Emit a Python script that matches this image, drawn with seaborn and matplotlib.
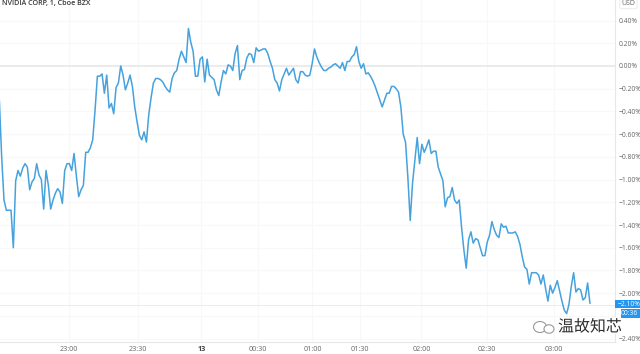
import matplotlib
matplotlib.use("Agg")
import matplotlib.pyplot as plt
import matplotlib.patheffects as pe
from matplotlib.patches import Ellipse
import pandas as pd
import seaborn as sns

pct = [-0.30,-0.80,-1.18,-1.27,-1.27,-1.27,-1.60,-1.01,-0.92,-0.97,-0.90,-0.86,-0.89,-1.09,-1.02,-0.99,-0.86,-0.96,-1.00,
-1.26,-0.92,-1.05,-1.26,-1.18,-1.12,-1.08,-1.11,-1.21,-0.92,-0.86,-0.86,-0.92,-0.77,-0.97,-1.15,-1.09,-1.05,-0.76,-0.76,
-0.72,-0.65,-0.39,-0.09,-0.09,-0.07,-0.24,-0.08,-0.37,-0.33,-0.42,-0.19,-0.15,0.00,-0.08,-0.21,-0.15,-0.08,-0.18,-0.36,
-0.49,-0.61,-0.65,-0.58,-0.67,-0.43,-0.28,-0.15,-0.11,-0.11,-0.12,-0.14,-0.18,-0.21,-0.23,-0.11,-0.06,-0.04,0.06,0.13,
0.08,0.03,0.33,0.21,0.13,-0.09,-0.09,0.06,0.08,-0.14,0.06,-0.08,-0.10,-0.12,-0.21,-0.26,-0.14,-0.04,-0.07,0.01,0.00,
-0.04,0.11,0.18,-0.12,-0.04,-0.03,0.07,0.11,0.10,0.03,0.16,0.13,0.14,0.15,0.15,0.11,0.04,-0.02,-0.12,-0.15,-0.22,-0.12,
-0.07,-0.02,-0.08,-0.05,-0.02,-0.12,-0.15,-0.05,-0.05,-0.08,-0.09,-0.08,0.02,0.15,0.08,0.03,-0.01,-0.04,-0.04,-0.02,
-0.01,0.01,0.02,0.00,-0.02,0.03,-0.04,0.04,0.04,0.08,0.10,0.17,0.04,-0.02,0.02,-0.07,-0.06,-0.09,-0.13,-0.18,-0.24,
-0.30,-0.36,-0.30,-0.24,-0.24,-0.18,-0.18,-0.20,-0.23,-0.36,-0.60,-0.67,-0.98,-1.36,-1.03,-0.83,-0.63,-0.86,-0.69,-0.76,
-0.71,-0.65,-0.77,-0.75,-0.75,-0.89,-0.95,-1.01,-1.24,-1.16,-1.15,-1.07,-1.18,-1.21,-1.18,-1.42,-1.62,-1.78,-1.53,-1.46,
-1.56,-1.52,-1.53,-1.60,-1.67,-1.67,-1.55,-1.49,-1.37,-1.44,-1.49,-1.51,-1.39,-1.42,-1.41,-1.47,-1.47,-1.47,-1.46,-1.50,
-1.57,-1.68,-1.77,-1.79,-1.92,-1.82,-1.82,-1.82,-1.84,-1.92,-1.84,-1.96,-2.07,-1.93,-2.00,-1.95,-1.89,-1.98,-2.07,-2.15,
-2.18,-2.10,-1.94,-1.82,-1.99,-1.96,-1.97,-2.06,-2.04,-1.91,-2.09]
bars = list(range(-1, len(pct) - 1))

time_ticks = [28.9, 58.3, 85.6, 109.9, 133.1, 153.5, 179.8, 208.0, 236.4]
time_labels = ["23:00", "23:30", "13", "00:30", "01:00", "01:30", "02:00", "02:30", "03:00"]
y_ticks = [0.4, 0.2, 0.0, -0.2, -0.4, -0.6, -0.8, -1.0, -1.2, -1.4, -1.6, -1.8, -2.0, -2.4]
grid_y = [0.4, 0.2, -0.2, -0.4, -0.6, -0.8, -1.0, -1.2, -1.4, -1.6, -1.8, -2.0, -2.2, -2.4]
y_labels = ["0.40%", "0.20%", "0.00%", "\u22120.20%", "\u22120.40%", "\u22120.60%", "\u22120.80%", "\u22121.00%",
            "\u22121.20%", "\u22121.40%", "\u22121.60%", "\u22121.80%", "\u22122.00%", "\u22122.40%"]
last_value = -2.10

W, H = 640, 354
sns.set_theme(style="white")
plt.rcParams["font.family"] = ["Open Sans", "DejaVu Sans"]
fig = plt.figure(figsize=(W / 100, H / 100), dpi=100, facecolor="white")
ax = fig.add_axes([0, (H - 342) / H, 614.7 / W, 342 / H], facecolor="white")

df = pd.DataFrame({"bar": bars, "pct": pct})
sns.lineplot(data=df, x="bar", y="pct", ax=ax, color="#45a2dd", linewidth=1.1, zorder=5, errorbar=None)

ax.set_xlim(-5 / 7, 262.6)
ax.set_ylim(-2.43, 0.581)
ax.set_xlabel("")
ax.set_ylabel("")
for v in grid_y:
    ax.axhline(v, color="#f7f8fa", lw=0.8, zorder=1)
for t in time_ticks:
    ax.axvline(t, color="#f7f8fa", lw=0.8, zorder=1)
ax.axhline(0, color="#e6e6e6", lw=1.1, zorder=2)
ax.axhline(last_value, color="#e2efef", lw=0.7, zorder=2)

for s in ["top", "left"]:
    ax.spines[s].set_visible(False)
for s in ["right", "bottom"]:
    ax.spines[s].set_color("#e6e8eb")
    ax.spines[s].set_linewidth(0.8)

ax.yaxis.tick_right()
ax.set_yticks(y_ticks)
ax.set_yticklabels(y_labels)
ax.set_xticks(time_ticks)
ax.set_xticklabels(time_labels)
ax.tick_params(axis="y", length=0, pad=2.5, labelsize=4.9, labelcolor="#666666")
ax.tick_params(axis="x", length=0, pad=3, labelsize=5.2, labelcolor="#666666")
for lbl in ax.get_xticklabels():
    if lbl.get_text() == "13":
        lbl.set_fontweight("bold")
        lbl.set_color("#444444")

fig.text(2 / W, 1 - 4 / H, "NVIDIA CORP, 1, Cboe BZX", fontsize=5.2, color="#3a3a3a",
         fontweight="semibold", va="center", ha="left")

fig.text(628.5 / W, 1 - 3.5 / H, "USD", fontsize=5, color="#666666", ha="center", va="center",
         bbox=dict(boxstyle="round,pad=0.25", fc="white", ec="#e6e8eb", lw=0.6))

for y0, y1, x0, txt in [(300, 308, 614.5, "\u22122.10%"), (309, 317.5, 621, "00:36")]:
    fig.patches.append(plt.Rectangle((x0 / W, 1 - y1 / H), (640 - x0) / W, (y1 - y0) / H,
                                     transform=fig.transFigure, fc="#2196f3", ec="none"))
    fig.text(629 / W, 1 - (y0 + y1) / 2 / H, txt, fontsize=4.9, color="white", ha="center", va="center")

for cx, cy, w, h in [(540, 327, 13, 11), (549, 329, 10, 8.5)]:
    fig.patches.append(Ellipse((cx / W, 1 - cy / H), w / W, h / H, transform=fig.transFigure,
                               fc="white", ec="#9a9a9a", lw=0.8, zorder=6))

fig.text(590 / W, 1 - 327 / H, "温故知芯", family=["Noto Sans CJK SC", "DejaVu Sans"], fontsize=11.5,
         color="#2e2e2e", fontweight="medium", ha="center", va="center", zorder=7,
         path_effects=[pe.withStroke(linewidth=2, foreground="white")])

fig.savefig("out.png", dpi=100, facecolor="white")
